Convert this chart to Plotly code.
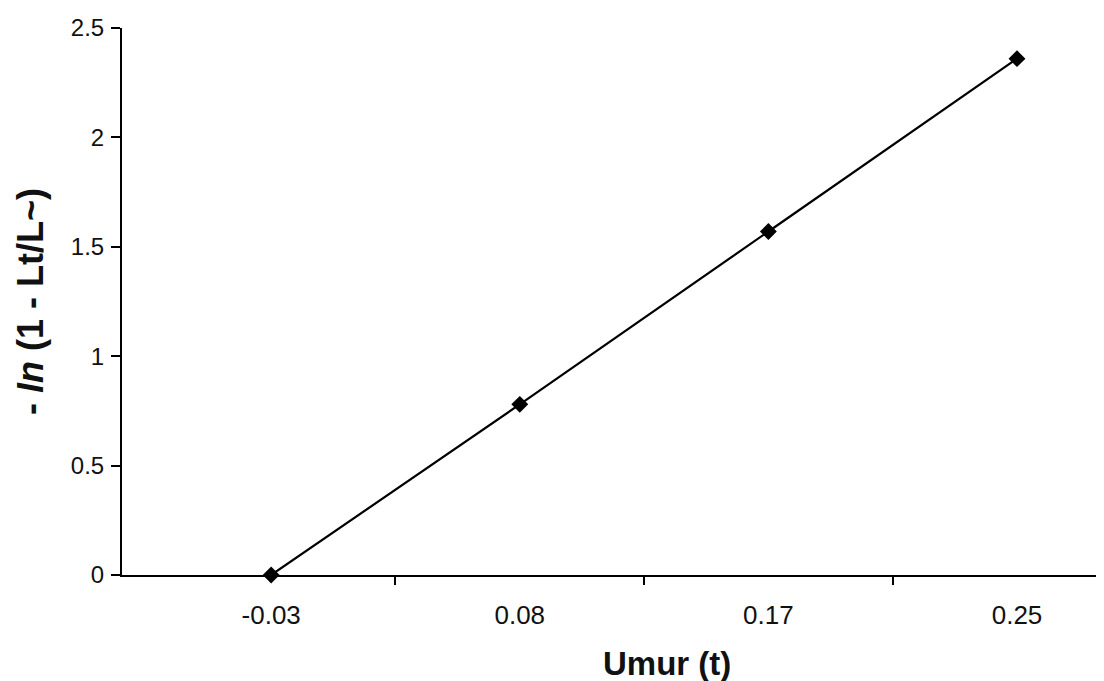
import plotly.graph_objects as go

categories = ["-0.03", "0.08", "0.17", "0.25"]
values = [0.0, 0.78, 1.57, 2.36]
y_ticks = [0, 0.5, 1, 1.5, 2, 2.5]
y_tick_labels = ["0", "0.5", "1", "1.5", "2", "2.5"]
x_title = "<b>Umur (t)</b>"
y_title = "<b>- <i>In</i> (1 - Lt/L~)</b>"

x_pos = list(range(len(categories)))
boundaries = [i + 0.5 for i in x_pos[:-1]]

fig = go.Figure()
fig.add_trace(go.Scatter(
    x=x_pos, y=values, mode="lines+markers",
    line=dict(color="black", width=2.2),
    marker=dict(symbol="diamond", size=13, color="black"),
    cliponaxis=False, showlegend=False,
))

font_family = "Liberation Sans, Arial, sans-serif"
fig.update_layout(
    width=1096, height=673,
    margin=dict(l=114, r=0, t=20, b=106),
    paper_bgcolor="white", plot_bgcolor="white",
    font=dict(family=font_family, color="#111", size=20),
    xaxis=dict(
        range=[-0.6, 3.35],
        tickvals=x_pos, ticktext=categories, ticks="",
        minor=dict(tickvals=boundaries, ticks="outside", ticklen=8,
                   tickcolor="black", tickwidth=1.5, showgrid=False),
        showline=True, linecolor="black", linewidth=2,
        showgrid=False, zeroline=False,
        tickfont=dict(size=26),
        ticklabelstandoff=16,
    ),
    yaxis=dict(
        range=[0, 2.5], tickvals=y_ticks, ticktext=y_tick_labels,
        showline=True, linecolor="black", linewidth=2,
        ticks="outside", ticklen=9, tickcolor="black", tickwidth=1.5,
        showgrid=False, zeroline=False,
        tickfont=dict(size=24),
        ticklabelstandoff=2,
        title=dict(text=y_title, font=dict(size=36), standoff=16),
    ),
    annotations=[dict(
        text=x_title, xref="paper", yref="paper", x=0.555, y=0,
        xanchor="center", yanchor="middle", yshift=-88,
        showarrow=False, font=dict(size=33),
    )],
)

fig.write_html("out.html")
